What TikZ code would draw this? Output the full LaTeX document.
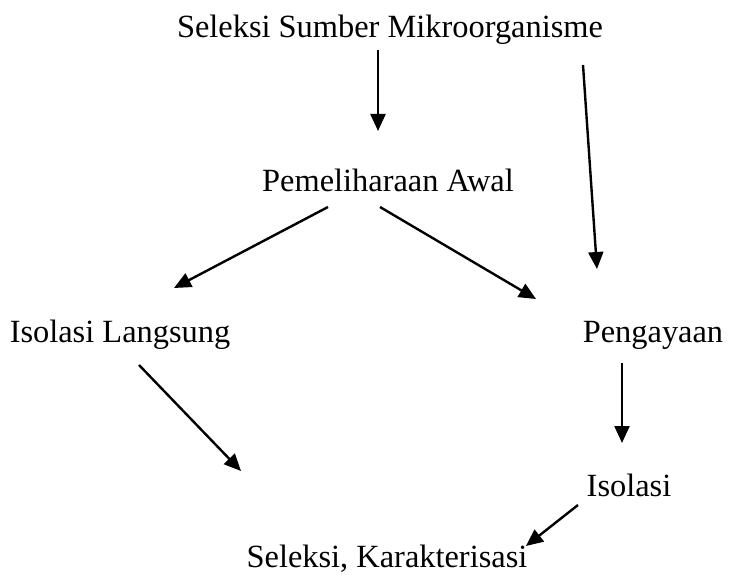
\documentclass[tikz,border=0pt]{standalone}
\usepackage{fontspec}
\setmainfont{Liberation Serif}
\usetikzlibrary{arrows.meta}
\begin{document}
\begin{tikzpicture}[x=1pt,y=-1pt,
  lbl/.style={font=\fontsize{32.4}{38}\selectfont, inner sep=0pt, anchor=base},
  arr/.style={line width=2.4pt, -{Triangle[length=17pt,width=15pt]}}]
\useasboundingbox (0,0) rectangle (731,575);
\node[lbl] (src) at (390,38) {Seleksi Sumber Mikroorganisme};
\node[lbl] (pem) at (388,191) {Pemeliharaan Awal};
\node[lbl] (isl) at (120,342) {Isolasi Langsung};
\node[lbl] (pen) at (653,342) {Pengayaan};
\node[lbl] (iso) at (629,496) {Isolasi};
\node[lbl] (sel) at (387,567) {Seleksi, Karakterisasi};
\coordinate (a1s) at (378,50); \coordinate (a1e) at (378,131);
\coordinate (a2s) at (583,65); \coordinate (a2e) at (597,269);
\coordinate (a3s) at (328,207); \coordinate (a3e) at (174,288);
\coordinate (a4s) at (380,207); \coordinate (a4e) at (536,299);
\coordinate (a5s) at (139,365); \coordinate (a5e) at (241,471);
\coordinate (a6s) at (622,363); \coordinate (a6e) at (622,443);
\coordinate (a7s) at (578,505); \coordinate (a7e) at (526,546);
\draw[arr] (a1s) -- (a1e);
\draw[arr] (a2s) -- (a2e);
\draw[arr] (a3s) -- (a3e);
\draw[arr] (a4s) -- (a4e);
\draw[arr] (a5s) -- (a5e);
\draw[arr] (a6s) -- (a6e);
\draw[arr] (a7s) -- (a7e);
\end{tikzpicture}
\end{document}
